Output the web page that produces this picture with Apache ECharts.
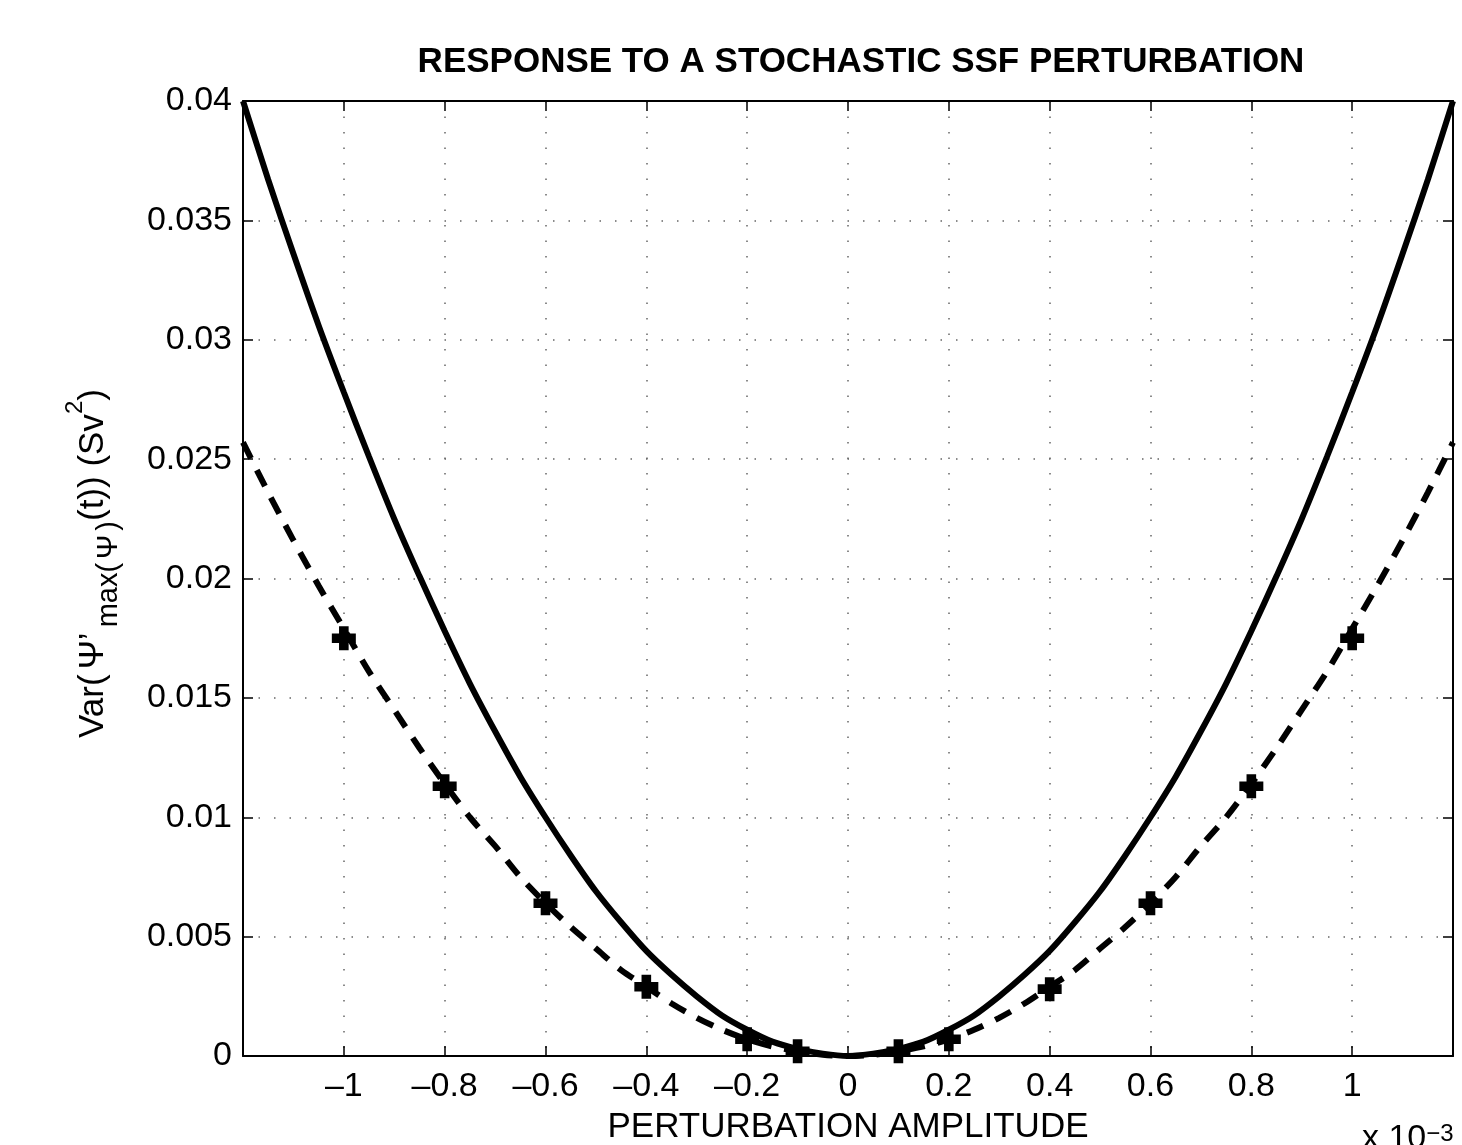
<!DOCTYPE html>
<html>
<head>
<meta charset="utf-8">
<script src="https://cdn.jsdelivr.net/npm/echarts@6/dist/echarts.min.js"></script>
<style>
  html, body { margin: 0; padding: 0; background: #fff; }
  #chart { width: 1462px; height: 1145px; }
</style>
</head>
<body>
<div id="chart"></div>
<script>
// perturbation amplitude (x 10^-3)
var amplitude = [-1.2, -1.15, -1.1, -1.05, -1.0, -0.95, -0.9, -0.85, -0.8, -0.75, -0.7, -0.65, -0.6, -0.55,
  -0.5, -0.45, -0.4, -0.35, -0.3, -0.25, -0.2, -0.15, -0.1, -0.05, 0,
  0.05, 0.1, 0.15, 0.2, 0.25, 0.3, 0.35, 0.4, 0.45, 0.5, 0.55, 0.6, 0.65, 0.7, 0.75,
  0.8, 0.85, 0.9, 0.95, 1.0, 1.05, 1.1, 1.15, 1.2]
// solid curve
var solidVar = [0.0400, 0.0367, 0.0336, 0.0306, 0.0278, 0.0251, 0.0225, 0.0201, 0.0178, 0.0156, 0.0136, 0.0117, 0.0100, 0.0084,
  0.0069, 0.0056, 0.0044, 0.0034, 0.0025, 0.0017, 0.0011, 0.0006, 0.0003, 0.0001, 0,
  0.0001, 0.0003, 0.0006, 0.0011, 0.0017, 0.0025, 0.0034, 0.0044, 0.0056, 0.0069, 0.0084, 0.0100, 0.0117, 0.0136, 0.0156,
  0.0178, 0.0201, 0.0225, 0.0251, 0.0278, 0.0306, 0.0336, 0.0367, 0.0400]
// dashed curve
var dashedVar = [0.0257, 0.0236, 0.0216, 0.0197, 0.0179, 0.0161, 0.0145, 0.0129, 0.0114, 0.0100, 0.0088, 0.0075, 0.0064, 0.0054,
  0.0045, 0.0036, 0.0029, 0.0022, 0.0016, 0.0011, 0.0007, 0.0004, 0.0002, 0.00005, 0,
  0.00005, 0.0002, 0.0004, 0.0007, 0.0011, 0.0016, 0.0022, 0.0029, 0.0036, 0.0045, 0.0054, 0.0064, 0.0075, 0.0088, 0.0100,
  0.0114, 0.0129, 0.0145, 0.0161, 0.0179, 0.0197, 0.0216, 0.0236, 0.0257]
// plus markers
var markerAmp = [-1.0, -0.8, -0.6, -0.4, -0.2, -0.1, 0.1, 0.2, 0.4, 0.6, 0.8, 1.0]
var markerVar = [0.0175, 0.0113, 0.0064, 0.0029, 0.0007, 0.0002, 0.0002, 0.0007, 0.0028, 0.0064, 0.0113, 0.0175]

var font = '"Liberation Sans", Arial, sans-serif'
var plusIcon = 'path://M3,0H7V3H10V7H7V10H3V7H0V3H3Z'

function pairs (xs, ys) {
  var out = []
  for (var i = 0; i < xs.length; i++) out.push([xs[i], ys[i]])
  return out
}

function xLabel (v) {
  var r = Math.round(v * 10) / 10
  if (Math.abs(r) > 1.05) return ''
  if (r === 0) return '0'
  return (r < 0 ? '\u2013' : '') + String(Math.abs(r))
}

var mychart = echarts.init(document.getElementById('chart'))

var frameX = {
  type: 'value',
  min: -1.2,
  max: 1.2,
  interval: 0.2,
  axisLine: { show: true, onZero: false, lineStyle: { color: '#000', width: 2 } },
  axisTick: { show: true, inside: true, length: 10, lineStyle: { color: '#000', width: 1.5 } },
  splitLine: { show: false }
}
var frameY = {
  type: 'value',
  min: 0,
  max: 0.04,
  interval: 0.005,
  axisLine: { show: true, onZero: false, lineStyle: { color: '#000', width: 2 } },
  axisTick: { show: true, inside: true, length: 10, lineStyle: { color: '#000', width: 1.5 } },
  splitLine: { show: false }
}

var option = {
  animation: false,
  backgroundColor: '#fff',
  title: {
    text: 'RESPONSE TO A STOCHASTIC SSF PERTURBATION',
    left: 856,
    top: 40,
    textAlign: 'center',
    textStyle: { fontFamily: font, fontWeight: 'bold', fontSize: 35, color: '#000' }
  },
  grid: { left: 243, right: 9, top: 101, bottom: 89, containLabel: false, outerBoundsMode: 'none' },
  graphic: [
    {
      type: 'text',
      left: 1362,
      top: 1122,
      style: {
        text: 'x 10{s|\u22123}',
        fontFamily: font,
        fontSize: 34,
        fill: '#000',
        rich: { s: { fontSize: 24, verticalAlign: 'top', fontFamily: font } }
      }
    }
  ],
  xAxis: [
    Object.assign({}, frameX, {
      position: 'bottom',
      name: 'PERTURBATION AMPLITUDE',
      nameLocation: 'middle',
      nameGap: 54,
      nameTextStyle: { fontFamily: font, fontSize: 35, color: '#000' },
      axisLabel: { show: true, margin: 14, fontFamily: font, fontSize: 34, color: '#000', formatter: xLabel },
      splitLine: { show: true, lineStyle: { color: '#666', width: 1.5, type: [1.5, 14] } }
    }),
    Object.assign({}, frameX, { position: 'top', axisLabel: { show: false } })
  ],
  yAxis: [
    Object.assign({}, frameY, {
      position: 'left',
      name: '{s|Var(}{p|\u03A8\u2019}{b|max(}{q|\u03A8}{b|)}{n|(t)) (Sv}{t|2}{n|)}',
      nameLocation: 'middle',
      nameGap: 120,
      nameRotate: 90,
      nameTextStyle: {
        color: '#000',
        rich: {
          n: { fontFamily: font, fontSize: 35, color: '#000', lineHeight: 60, verticalAlign: 'middle' },
          s: { fontFamily: font, fontSize: 35, color: '#000', lineHeight: 60, verticalAlign: 'middle', padding: [0, 0, 0, 30] },
          p: { fontFamily: font, fontSize: 35, color: '#000', lineHeight: 60, verticalAlign: 'middle', padding: [0, 5, 0, 5] },
          b: { fontFamily: font, fontSize: 29, color: '#000', lineHeight: 60, verticalAlign: 'bottom' },
          q: { fontFamily: font, fontSize: 29, color: '#000', lineHeight: 60, verticalAlign: 'bottom', padding: [0, 4, 0, 4] },
          t: { fontFamily: font, fontSize: 24, color: '#000', lineHeight: 60, verticalAlign: 'top' }
        }
      },
      axisLabel: { show: true, margin: 11, fontFamily: font, fontSize: 34, color: '#000' },
      splitLine: { show: true, lineStyle: { color: '#666', width: 1.5, type: [1.5, 14] } }
    }),
    Object.assign({}, frameY, { position: 'right', axisLabel: { show: false } })
  ],
  series: [
    {
      name: 'solid',
      type: 'line',
      data: pairs(amplitude, solidVar),
      smooth: 0.3,
      symbol: 'none',
      clip: true,
      lineStyle: { color: '#000', width: 6 },
      z: 3
    },
    {
      name: 'dashed',
      type: 'line',
      data: pairs(amplitude, dashedVar),
      smooth: 0.3,
      symbol: 'none',
      clip: true,
      lineStyle: { color: '#000', width: 6, type: [18, 13] },
      z: 3
    },
    {
      name: 'markers',
      type: 'scatter',
      data: pairs(markerAmp, markerVar),
      symbol: plusIcon,
      symbolSize: 24,
      itemStyle: { color: '#000', opacity: 1 },
      z: 4
    }
  ]
}

mychart.setOption(option)
</script>
</body>
</html>
